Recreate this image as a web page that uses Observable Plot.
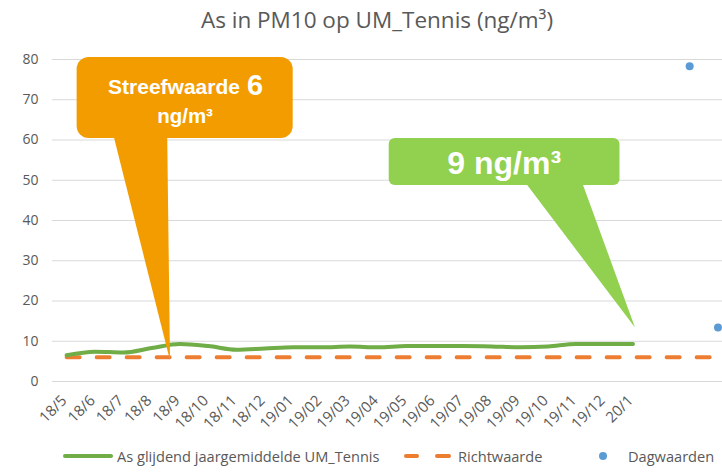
<!DOCTYPE html>
<html>
<head>
<meta charset="utf-8">
<script src="https://cdn.jsdelivr.net/npm/d3@7"></script>
<script src="https://cdn.jsdelivr.net/npm/@observablehq/plot@0.6"></script>
<style>
  body { margin: 0; background: #fff; width: 722px; height: 472px; overflow: hidden; font-family: "Open Sans", sans-serif; }
  #title { height: 40px; line-height: 40px; font-size: 22.5px; color: #595959; text-align: center; padding-left: 32px; box-sizing: border-box; width: 722px; white-space: nowrap; }
  #chart { height: 405px; }
  #legend { position: relative; height: 27px; width: 722px; font-size: 14.6px; color: #595959; }
  #legend .it { position: absolute; top: 0; line-height: 22px; white-space: nowrap; }
  #legend .sw { position: absolute; }
</style>
</head>
<body>
<div id="title">As in PM10 op UM_Tennis (ng/m³)</div>
<div id="chart"></div>
<div id="legend"></div>
<script>
// ---- data ----
const months = ["18/5","18/6","18/7","18/8","18/9","18/10","18/11","18/12","19/01","19/02","19/03","19/04","19/05","19/06","19/07","19/08","19/09","19/10","19/11","19/12","20/1"];
const categories = months.concat(["", "", ""]);
const glijdend = [6.5,7.4,7.2,8.3,9.3,8.8,7.9,8.2,8.5,8.5,8.7,8.5,8.8,8.8,8.8,8.7,8.5,8.7,9.3,9.3,9.3];
const richtwaarde = 6;
const dagwaarden = [null,null,null,null,null,null,null,null,null,null,null,null,null,null,null,null,null,null,null,null,null,null,78.3,13.4];
const yTicks = [0,10,20,30,40,50,60,70,80];
const seriesNames = ["As glijdend jaargemiddelde UM_Tennis", "Richtwaarde", "Dagwaarden"];
const colors = ["#70AD47", "#ED7D31", "#5B9BD5"];

// callouts (data coordinates: category index, ng/m³)
const calloutBoxes = [
  {x1: 0.37, x2: 8.0, y1: 60.4, y2: 80.5, fill: "#F39C00"},
  {x1: 11.39, x2: 19.54, y1: 48.7, y2: 60.4, fill: "#92D050"}
];
const orangeTail = [{x: 1.64, y: 61.5}, {x: 3.55, y: 61.5}, {x: 3.65, y: 5.2}];
const greenTail = [{x: 16.19, y: 49.5}, {x: 18.2, y: 49.5}, {x: 20.07, y: 13.4}];
const calloutTexts = [
  {x: 6.12, y: 73.1, text: "Streefwaarde", size: 21, anchor: "end"},
  {x: 6.37, y: 73.5, text: "6", size: 29, anchor: "start"},
  {x: 4.18, y: 65.9, text: "ng/m³", size: 20.5, anchor: "middle"},
  {x: 15.45, y: 54.2, text: "9 ng/m³", size: 32, anchor: "middle"}
];

const lineData = glijdend.map((v, i) => ({i, v}));
const richtData = categories.map((c, i) => ({i, v: richtwaarde}));
const dagData = dagwaarden.map((v, i) => ({i, v})).filter(d => d.v != null);
const xLabels = months.map((m, i) => ({i, m}));

const chart = Plot.plot({
  width: 722,
  height: 405,
  marginLeft: 52,
  marginRight: 0,
  marginTop: 19,
  marginBottom: 64,
  style: {fontFamily: "Open Sans, sans-serif", fontSize: "14px", color: "#595959", background: "white", overflow: "visible"},
  x: {type: "linear", domain: [-0.5, 23.16], axis: null},
  y: {domain: [0, 80]},
  marks: [
    Plot.ruleY(yTicks, {stroke: "#d9d9d9", strokeWidth: 1}),
    Plot.axisY({ticks: yTicks, tickSize: 0, tickPadding: 14, fontSize: 14, fill: "#595959"}),
    Plot.text(xLabels, {x: "i", text: "m", frameAnchor: "bottom", rotate: -45, textAnchor: "end", dx: 1, dy: 20, fontSize: 15, fill: "#595959"}),
    Plot.line(richtData, {x: "i", y: "v", stroke: colors[1], strokeWidth: 4, strokeDasharray: "13,17", strokeLinecap: "round"}),
    Plot.line(lineData, {x: "i", y: "v", stroke: colors[0], strokeWidth: 4, curve: "monotone-x", strokeLinecap: "round"}),
    Plot.dot(dagData, {x: "i", y: "v", r: 4, fill: colors[2], stroke: null}),
    Plot.line(orangeTail, {x: "x", y: "y", fill: "#F39C00", stroke: null}),
    Plot.line(greenTail, {x: "x", y: "y", fill: "#92D050", stroke: null}),
    Plot.rect(calloutBoxes.slice(0, 1), {x1: "x1", x2: "x2", y1: "y1", y2: "y2", fill: "fill", rx: 12}),
    Plot.rect(calloutBoxes.slice(1), {x1: "x1", x2: "x2", y1: "y1", y2: "y2", fill: "fill", rx: 6}),
    ...calloutTexts.map(t => Plot.text([t], {x: "x", y: "y", text: "text", fill: "white", fontSize: t.size, fontWeight: "bold", fontFamily: "Liberation Sans, Arial, sans-serif", textAnchor: t.anchor}))
  ]
});
document.getElementById("chart").appendChild(chart);

// legend
const leg = document.getElementById("legend");
function add(html) { leg.insertAdjacentHTML("beforeend", html); }
add(`<div class="sw" style="left:63px;top:9px;width:50px;height:4px;background:${colors[0]};border-radius:2px"></div>`);
add(`<div class="it" style="left:117px">${seriesNames[0]}</div>`);
add(`<div class="sw" style="left:404px;top:9px;width:15px;height:4px;background:${colors[1]};border-radius:2px"></div>`);
add(`<div class="sw" style="left:435px;top:9px;width:16px;height:4px;background:${colors[1]};border-radius:2px"></div>`);
add(`<div class="it" style="left:458px">${seriesNames[1]}</div>`);
add(`<div class="sw" style="left:599px;top:7px;width:8px;height:8px;background:${colors[2]};border-radius:50%"></div>`);
add(`<div class="it" style="left:628px">${seriesNames[2]}</div>`);
</script>
</body>
</html>
